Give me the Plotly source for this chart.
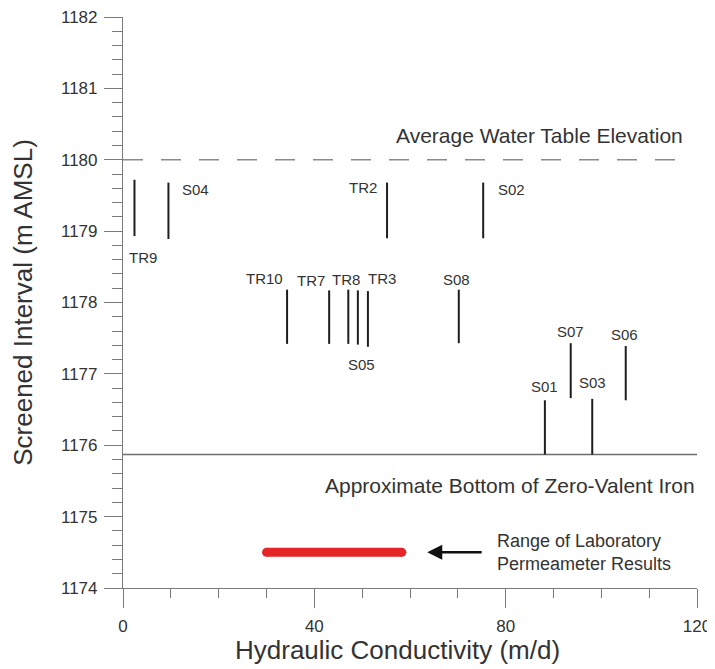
import plotly.graph_objects as go

# ---- data ----
wells = ["TR9", "S04", "TR2", "S02", "TR10", "TR7", "TR8", "S05", "TR3", "S08",
         "S07", "S06", "S01", "S03"]
k_md = [2.4, 9.5, 55.2, 75.3, 34.3, 43.1, 47.1, 49.1, 51.2, 70.2,
        93.6, 105.1, 88.2, 98.1]
top_elev = [1179.72, 1179.68, 1179.68, 1179.68, 1178.18, 1178.17, 1178.18, 1178.17, 1178.16, 1178.18,
            1177.43, 1177.39, 1176.63, 1176.65]
bot_elev = [1178.93, 1178.89, 1178.90, 1178.90, 1177.42, 1177.42, 1177.42, 1177.41, 1177.38, 1177.43,
            1176.66, 1176.63, 1175.87, 1175.87]

water_table = 1180.0
zvi_bottom = 1175.87
lab_range = [30.0, 58.3]
lab_elev = 1174.5

x_ticks = [0, 40, 80, 120]
y_ticks = [1174, 1175, 1176, 1177, 1178, 1179, 1180, 1181, 1182]

# label placement (styling): anchor end, xanchor, xshift, yshift
label_style = {
    "TR9": ("bot", "left", -7, -21),
    "S04": ("top", "left", 12, -7),
    "TR2": ("top", "right", -8, -5),
    "S02": ("top", "left", 13, -7),
    "TR10": ("top", "center", -23, 11),
    "TR7": ("top", "center", -18, 10),
    "TR8": ("top", "center", -2, 10),
    "S05": ("bot", "center", 4, -20),
    "TR3": ("top", "center", 14, 13),
    "S08": ("top", "center", -2, 10),
    "S07": ("top", "center", 0, 12),
    "S06": ("top", "center", -1, 12),
    "S01": ("top", "center", 0, 14),
    "S03": ("top", "center", 0, 16),
}

FONT = "Liberation Sans, Arial, sans-serif"
TXT = "#333333"
fig = go.Figure()

# water table (dashed)
fig.add_trace(go.Scatter(x=[0, 118], y=[water_table, water_table], mode="lines",
                         line=dict(color="#8a8a8a", width=1.5, dash="20px,18px"),
                         hoverinfo="skip", showlegend=False))
# ZVI bottom
fig.add_trace(go.Scatter(x=[0, 120], y=[zvi_bottom, zvi_bottom], mode="lines",
                         line=dict(color="#6e6e6e", width=1.5),
                         hoverinfo="skip", showlegend=False))

annotations = []
for name, k, t, b in zip(wells, k_md, top_elev, bot_elev):
    fig.add_trace(go.Scatter(x=[k, k], y=[b, t], mode="lines",
                             line=dict(color="#1e1e1e", width=2),
                             name=name, showlegend=False))
    end, xa, xs, ys = label_style[name]
    annotations.append(dict(x=k, y=(t if end == "top" else b), xref="x", yref="y",
                            text=name, showarrow=False, xanchor=xa, yanchor="middle",
                            xshift=xs, yshift=ys,
                            font=dict(family=FONT, size=15, color=TXT)))

# lab permeameter range (red bar with round ends)
fig.add_trace(go.Scatter(x=lab_range, y=[lab_elev, lab_elev], mode="lines+markers",
                         line=dict(color="#e52629", width=9),
                         marker=dict(color="#e52629", size=9, symbol="circle"),
                         hoverinfo="skip", showlegend=False))

# arrow
annotations.append(dict(x=63.6, y=lab_elev, xref="x", yref="y", ax=75.3, ay=lab_elev,
                        axref="x", ayref="y", text="", showarrow=True, arrowhead=2,
                        arrowsize=1.2, arrowwidth=2.5, arrowcolor="#111111"))
annotations.append(dict(x=77.8, y=lab_elev, xref="x", yref="y",
                        text="Range of Laboratory<br>Permeameter Results", showarrow=False,
                        xanchor="left", yanchor="middle", align="left",
                        font=dict(family=FONT, size=18, color=TXT)))
annotations.append(dict(x=87, y=1180.34, xref="x", yref="y",
                        text="Average Water Table Elevation", showarrow=False,
                        xanchor="center", yanchor="middle",
                        font=dict(family=FONT, size=21, color=TXT)))
annotations.append(dict(x=120, y=1175.43, xref="x", yref="y",
                        text="Approximate Bottom of Zero-Valent Iron", showarrow=False,
                        xanchor="right", yanchor="middle",
                        font=dict(family=FONT, size=21, color=TXT)))
# x-axis title
annotations.append(dict(x=0.479, y=0, xref="paper", yref="paper",
                        text="Hydraulic Conductivity (m/d)", showarrow=False,
                        xanchor="center", yanchor="middle", yshift=-62,
                        font=dict(family=FONT, size=26, color=TXT)))

axis_common = dict(showgrid=False, zeroline=False, showline=True, linecolor="#7a7a7a",
                   linewidth=1.2, ticks="outside", tickcolor="#7a7a7a", tickwidth=1.2,
                   automargin=False, ticklabeloverflow="allow",
                   tickfont=dict(family=FONT, size=17, color=TXT))

# the page body adds an 8px offset, so the figure is sized to fit inside the window
fig.update_layout(
    width=707, height=661,
    margin=dict(l=115, r=18, t=9, b=81),
    plot_bgcolor="white", paper_bgcolor="white",
    showlegend=False,
    annotations=annotations,
    xaxis=dict(range=[0, 120], tickvals=x_ticks, ticklen=19, ticklabelstandoff=3, **axis_common,
               minor=dict(dtick=10, ticks="outside", ticklen=9, tickcolor="#7a7a7a", tickwidth=1.2)),
    yaxis=dict(range=[1174, 1182], tickvals=y_ticks, ticklen=18, ticklabelstandoff=3, **axis_common,
               minor=dict(dtick=0.2, ticks="outside", ticklen=10, tickcolor="#7a7a7a", tickwidth=1.2),
               title=dict(text="Screened Interval (m AMSL)", standoff=21,
                          font=dict(family=FONT, size=26, color=TXT))),
)

fig.write_html("out.html")
